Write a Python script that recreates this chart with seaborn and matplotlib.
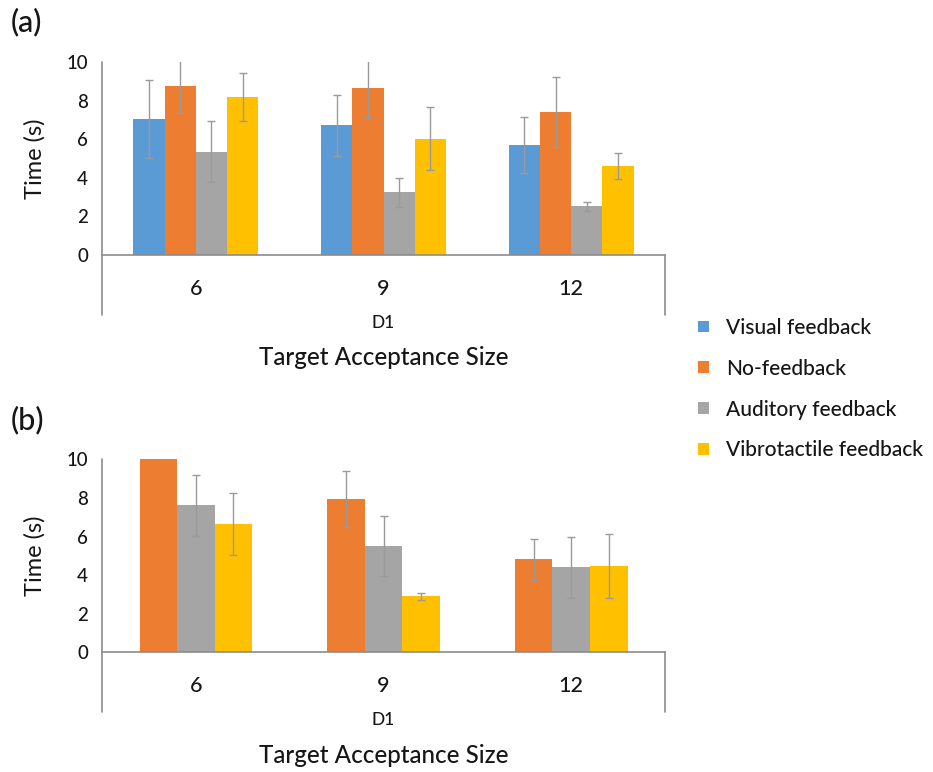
import matplotlib
matplotlib.use("Agg")
import matplotlib.pyplot as plt
from matplotlib.patches import Patch
import seaborn as sns
import pandas as pd

# ---- data -------------------------------------------------------------
sizes = ["6", "9", "12"]
conditions = ["Visual feedback", "No-feedback", "Auditory feedback", "Vibrotactile feedback"]
colors = ["#5B9BD5", "#ED7D31", "#A5A5A5", "#FFC000"]

# (a) mean completion time per target acceptance size
a_visual = [7.05, 6.71, 5.70]
a_nofb = [8.77, 8.63, 7.40]
a_audit = [5.34, 3.24, 2.53]
a_vibro = [8.19, 6.03, 4.59]
# (a) error bar half-lengths
a_visual_err = [2.01, 1.56, 1.45]
a_nofb_err = [1.40, 1.52, 1.82]
a_audit_err = [1.58, 0.75, 0.23]
a_vibro_err = [1.23, 1.63, 0.67]

# (b) mean completion time per target acceptance size
b_nofb = [11.6, 7.94, 4.82]
b_audit = [7.62, 5.53, 4.40]
b_vibro = [6.65, 2.90, 4.47]
# (b) error bar half-lengths
b_nofb_err = [1.40, 1.45, 1.05]
b_audit_err = [1.58, 1.55, 1.58]
b_vibro_err = [1.60, 0.17, 1.65]

# ---- styling ----------------------------------------------------------
sns.set_theme(style="white")
plt.rcParams["font.family"] = ["Lato", "DejaVu Sans"]
plt.rcParams["font.weight"] = "medium"
AXIS_GREY = "#8C8C8C"
ERR_GREY = "#9A9A9A"
TEXT = "#161616"


def long_table(series, errs, names):
    rows = []
    for name, vals, ers in zip(names, series, errs):
        for s, v, e in zip(sizes, vals, ers):
            rows.append({"size": s, "condition": name, "time": v, "err": e})
    return pd.DataFrame(rows)


def draw_panel(ax, df, names, width):
    pal = {n: c for n, c in zip(conditions, colors)}
    sns.barplot(data=df, x="size", y="time", hue="condition", hue_order=names,
                order=sizes, palette=pal, width=width, errorbar=None,
                saturation=1, linewidth=0, legend=False, ax=ax)
    # error bars centred on each drawn bar
    for name, cont in zip(names, ax.containers):
        sub = df[df["condition"] == name].set_index("size").loc[sizes]
        xs = [b.get_x() + b.get_width() / 2 for b in cont]
        ax.errorbar(xs, sub["time"].values, yerr=sub["err"].values, fmt="none",
                    ecolor=ERR_GREY, elinewidth=1.0, capsize=3.2, capthick=1.0,
                    zorder=3)
    ax.set_ylim(0, 10)
    ax.set_xlim(-0.5, 2.5)
    ax.set_yticks([0, 2, 4, 6, 8, 10])
    ax.tick_params(axis="y", length=0, pad=10, labelsize=13.5, labelcolor=TEXT)
    ax.tick_params(axis="x", length=0, pad=17, labelsize=15.5, labelcolor=TEXT)
    for side in ["top", "right", "left"]:
        ax.spines[side].set_visible(False)
    ax.spines["bottom"].set_color(AXIS_GREY)
    ax.spines["bottom"].set_linewidth(1.2)
    ax.set_xlabel("")
    ax.set_ylabel("Time (s)", fontsize=17, color=TEXT, labelpad=15)
    # frame lines of the category-axis area
    ax.plot([0, 0], [-0.31, 1.0], transform=ax.transAxes, color=AXIS_GREY,
            lw=1.2, clip_on=False)
    ax.plot([1, 1], [-0.31, 0.0], transform=ax.transAxes, color=AXIS_GREY,
            lw=1.2, clip_on=False)
    ax.annotate("D1", xy=(0.5, 0), xycoords="axes fraction", xytext=(0, -49),
                textcoords="offset points", ha="center", va="center",
                fontsize=12.5, color=TEXT)
    ax.annotate("Target Acceptance Size", xy=(0.5, 0), xycoords="axes fraction",
                xytext=(0, -74), textcoords="offset points", ha="center",
                va="center", fontsize=17.4, color=TEXT)
    return ax


fig = plt.figure(figsize=(9.33, 7.72), dpi=100)
ax_a = fig.add_axes([0.1093, 0.6697, 0.6035, 0.25])
ax_b = fig.add_axes([0.1093, 0.1550, 0.6035, 0.25])

df_a = long_table([a_visual, a_nofb, a_audit, a_vibro],
                  [a_visual_err, a_nofb_err, a_audit_err, a_vibro_err],
                  conditions)
df_b = long_table([b_nofb, b_audit, b_vibro],
                  [b_nofb_err, b_audit_err, b_vibro_err],
                  conditions[1:])

draw_panel(ax_a, df_a, conditions, 0.667)
draw_panel(ax_b, df_b, conditions[1:], 0.60)

fig.text(0.011, 0.971, "(a)", fontsize=22, color=TEXT, ha="left", va="center")
fig.text(0.011, 0.456, "(b)", fontsize=22, color=TEXT, ha="left", va="center")

handles = [Patch(facecolor=c, edgecolor="none") for c in colors]
fig.legend(handles, conditions, loc="center left", bbox_to_anchor=(0.744, 0.496),
           frameon=False, fontsize=15.0, handlelength=0.5, handleheight=0.5,
           handletextpad=0.85, labelspacing=1.0, labelcolor=TEXT,
           borderaxespad=0.0, borderpad=0.2)

fig.savefig("out.png", dpi=100, facecolor="white")
